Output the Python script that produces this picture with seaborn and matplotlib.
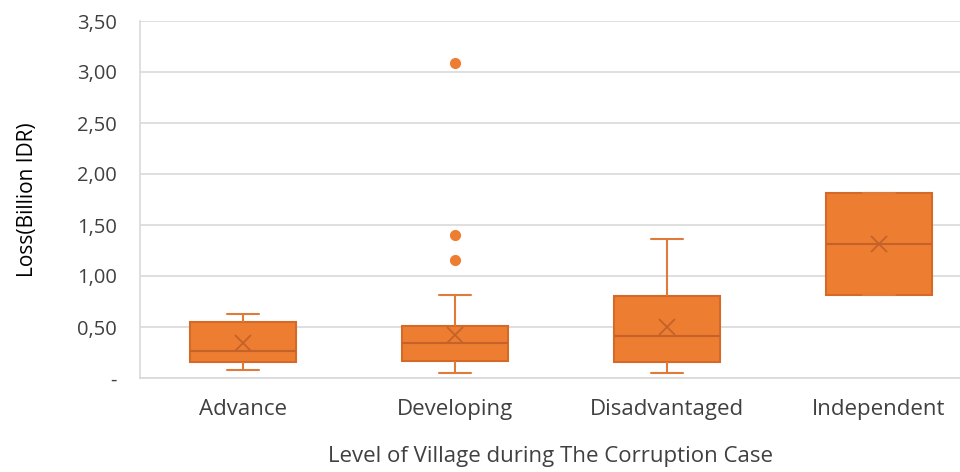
# -*- coding: utf-8 -*-
import pandas as pd
import matplotlib
matplotlib.use("Agg")
import matplotlib.pyplot as plt
from matplotlib.ticker import FuncFormatter, MultipleLocator
import seaborn as sns

# categories
levels = ["Advance", "Developing", "Disadvantaged", "Independent"]

# loss per case (billion IDR)
loss_advance = [0.08, 0.12, 0.16, 0.20, 0.26, 0.45, 0.55, 0.60, 0.63]
loss_developing = [
    0.05, 0.05, 0.06, 0.06, 0.07, 0.07, 0.08, 0.09, 0.10, 0.12,
    0.17,
    0.17, 0.18, 0.18, 0.19, 0.20, 0.21, 0.23, 0.25, 0.28,
    0.34,
    0.34, 0.35, 0.36, 0.37, 0.38, 0.40, 0.42, 0.45, 0.48,
    0.51,
    0.52, 0.53, 0.55, 0.58, 0.62, 0.70, 0.81,
    1.16, 1.40, 3.09,
]
loss_disadvantaged = [0.05, 0.08, 0.16, 0.22, 0.41, 0.50, 0.80, 0.90, 1.36]
loss_independent = [0.81, 0.81, 1.31, 1.81, 1.81]

rows = []
for lvl, vals in zip(levels, [loss_advance, loss_developing, loss_disadvantaged, loss_independent]):
    for v in vals:
        rows.append({"level": lvl, "loss": v})
df = pd.DataFrame(rows)

sns.set_theme(style = "white")
plt.rcParams["font.family"] = ["Open Sans", "DejaVu Sans"]

orange = "#ED7D31"
edge = "#D36A28"

fig = plt.figure(figsize = (9.6, 4.72), dpi = 100)
ax = fig.add_axes([140 / 960, 1 - 378 / 472, 820 / 960, 357 / 472])

sns.boxplot(
    data = df, x = "level", y = "loss", order = levels,
    color = orange, saturation = 1, linecolor = edge, linewidth = 1.5, width = 0.5,
    showmeans = True,
    meanprops = {"marker": "x", "markeredgecolor": "#C4622A", "markersize": 12, "markeredgewidth": 1.3},
    flierprops = {"marker": "o", "markerfacecolor": orange, "markeredgecolor": orange, "markersize": 7},
    medianprops = {"color": "#C4622A", "linewidth": 1.5},
    whiskerprops = {"color": "#E07A38", "linewidth": 1.5},
    capprops = {"color": "#E07A38", "linewidth": 1.5},
    capwidths = 0.15,
    ax = ax,
)

ax.set_ylim(0, 3.5)
ax.set_xlim(-0.486, 3.382)
ax.yaxis.set_major_locator(MultipleLocator(0.5))
ax.yaxis.set_major_formatter(FuncFormatter(lambda v, p: "-" if abs(v) < 1e-9 else f"{v:.2f}".replace(".", ",")))
ax.grid(axis = "y", color = "#D9D9D9", linewidth = 1.2)
ax.set_axisbelow(True)

for s in ["top", "right"]:
    ax.spines[s].set_visible(False)
for s in ["left", "bottom"]:
    ax.spines[s].set_color("#D9D9D9")
    ax.spines[s].set_linewidth(1.2)

ax.tick_params(axis = "both", length = 0, labelcolor = "#404040")
ax.tick_params(axis = "y", pad = 16.5, labelsize = 14.5)
ax.tick_params(axis = "x", pad = 15, labelsize = 16)

ax.set_ylabel("Loss(Billion IDR)", fontsize = 15, color = "black", labelpad = 28)
ax.set_xlabel("Level of Village during The Corruption Case", fontsize = 16, color = "#404040", labelpad = 19)

fig.savefig("out.png", dpi = 100)
